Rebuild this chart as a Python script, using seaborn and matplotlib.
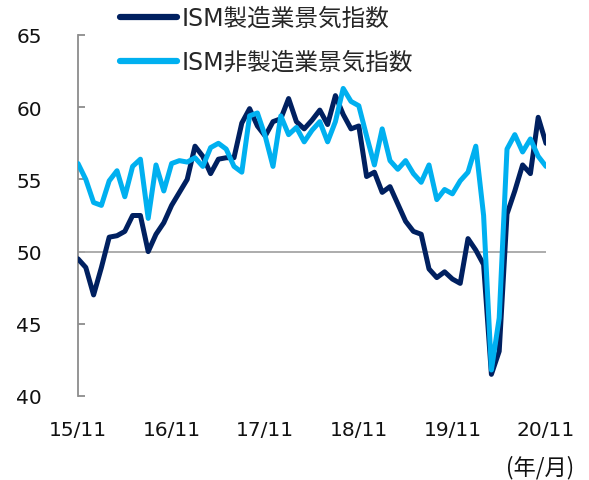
"""
ISM manufacturing / non-manufacturing PMI, 2015/11 - 2020/11.
"""

import matplotlib
matplotlib.use("Agg")
import matplotlib.pyplot as plt
import pandas as pd
import seaborn as sns


MONTHS = pd.date_range("2015-11-01", periods=61, freq="MS")

MANUFACTURING = [
    49.5, 48.9, 47.0, 48.9, 51.0, 51.1, 51.4, 52.5, 52.5, 50.0,
    51.2, 52.0, 53.2, 54.1, 55.0, 57.3, 56.6, 55.4, 56.4, 56.5,
    56.5, 58.9, 59.9, 58.7, 58.0, 59.0, 59.2, 60.6, 59.0, 58.5,
    59.1, 59.8, 58.8, 60.8, 59.5, 58.5, 58.7, 55.2, 55.5, 54.1,
    54.5, 53.3, 52.1, 51.4, 51.2, 48.8, 48.2, 48.6, 48.1, 47.8,
    50.9, 50.1, 49.1, 41.5, 43.1, 52.6, 54.2, 56.0, 55.4, 59.3,
    57.5,
]
NON_MANUFACTURING = [
    56.1, 55.0, 53.4, 53.2, 54.9, 55.6, 53.8, 55.9, 56.4, 52.3,
    56.0, 54.2, 56.1, 56.3, 56.2, 56.5, 55.9, 57.2, 57.5, 57.1,
    55.9, 55.5, 59.4, 59.6, 58.0, 55.9, 59.4, 58.1, 58.6, 57.6,
    58.4, 59.0, 57.6, 59.0, 61.3, 60.4, 60.1, 58.0, 56.0, 58.5,
    56.3, 55.7, 56.3, 55.4, 54.8, 56.0, 53.6, 54.3, 54.0, 54.9,
    55.5, 57.3, 52.5, 41.8, 45.4, 57.1, 58.1, 56.9, 57.8, 56.6,
    55.9,
]

SERIES = ["ISM製造業景気指数", "ISM非製造業景気指数"]
COLORS = ["#002060", "#00B0F0"]
Y_TICKS = [40, 45, 50, 55, 60, 65]
X_TICK_STEP = 12
UNIT_LABEL = "(年/月)"


def build_frame():
    month_index = list(range(len(MONTHS)))
    frames = []
    for name, values in zip(SERIES, [MANUFACTURING, NON_MANUFACTURING]):
        frames.append(pd.DataFrame({"month": month_index, "value": values, "series": name}))
    return pd.concat(frames, ignore_index=True)


def main():
    sns.set_theme(style="white")
    plt.rcParams["font.family"] = ["DejaVu Sans", "Noto Sans CJK JP"]

    data = build_frame()

    fig = plt.figure(figsize=(5.89, 4.81), dpi=100)
    ax = fig.add_axes([78 / 589, 1 - 397 / 481, (546 - 78) / 589, (397 - 36) / 481])

    ax.axhline(50, color="#A6A6A6", linewidth=1.3, zorder=1)

    sns.lineplot(
        data=data,
        x="month",
        y="value",
        hue="series",
        hue_order=SERIES,
        palette=COLORS,
        linewidth=3.6,
        ax=ax,
        zorder=3,
    )
    for line in ax.get_lines():
        line.set_solid_joinstyle("round")
        line.set_solid_capstyle("round")

    ax.set_xlim(0, len(MONTHS) - 1)
    ax.set_ylim(Y_TICKS[0], Y_TICKS[-1])
    ax.set_yticks(Y_TICKS)
    tick_positions = list(range(0, len(MONTHS), X_TICK_STEP))
    ax.set_xticks(tick_positions)
    ax.set_xticklabels([MONTHS[i].strftime("%y/%m") for i in tick_positions])
    ax.set_xlabel("")
    ax.set_ylabel("")

    for side in ["top", "right", "bottom"]:
        ax.spines[side].set_visible(False)
    ax.spines["left"].set_color("#8C8C8C")
    ax.spines["left"].set_linewidth(1.3)

    ax.tick_params(axis="y", direction="in", length=5, width=1.3, color="#8C8C8C",
                   pad=26, labelsize=14.5, labelcolor="#111111", left=True)
    ax.tick_params(axis="x", length=0, pad=17, labelsize=14.5, labelcolor="#111111")

    handles, labels = ax.get_legend_handles_labels()
    ax.legend(
        handles,
        labels,
        loc="upper left",
        bbox_to_anchor=(120 / 589, 1 - 7 / 481),
        bbox_transform=fig.transFigure,
        frameon=False,
        fontsize=17,
        handlelength=2.4,
        handletextpad=0.2,
        labelspacing=0.85,
        borderpad=0,
        borderaxespad=0,
    )
    for handle in ax.get_legend().get_lines():
        handle.set_linewidth(4.5)
        handle.set_solid_capstyle("round")

    fig.text(574 / 589, 1 - 468 / 481, UNIT_LABEL, ha="right", va="center",
             fontsize=16, color="#111111", family=["Noto Sans CJK JP", "DejaVu Sans"])

    fig.savefig("out.png", dpi=100)
    plt.close(fig)


if __name__ == "__main__":
    main()
